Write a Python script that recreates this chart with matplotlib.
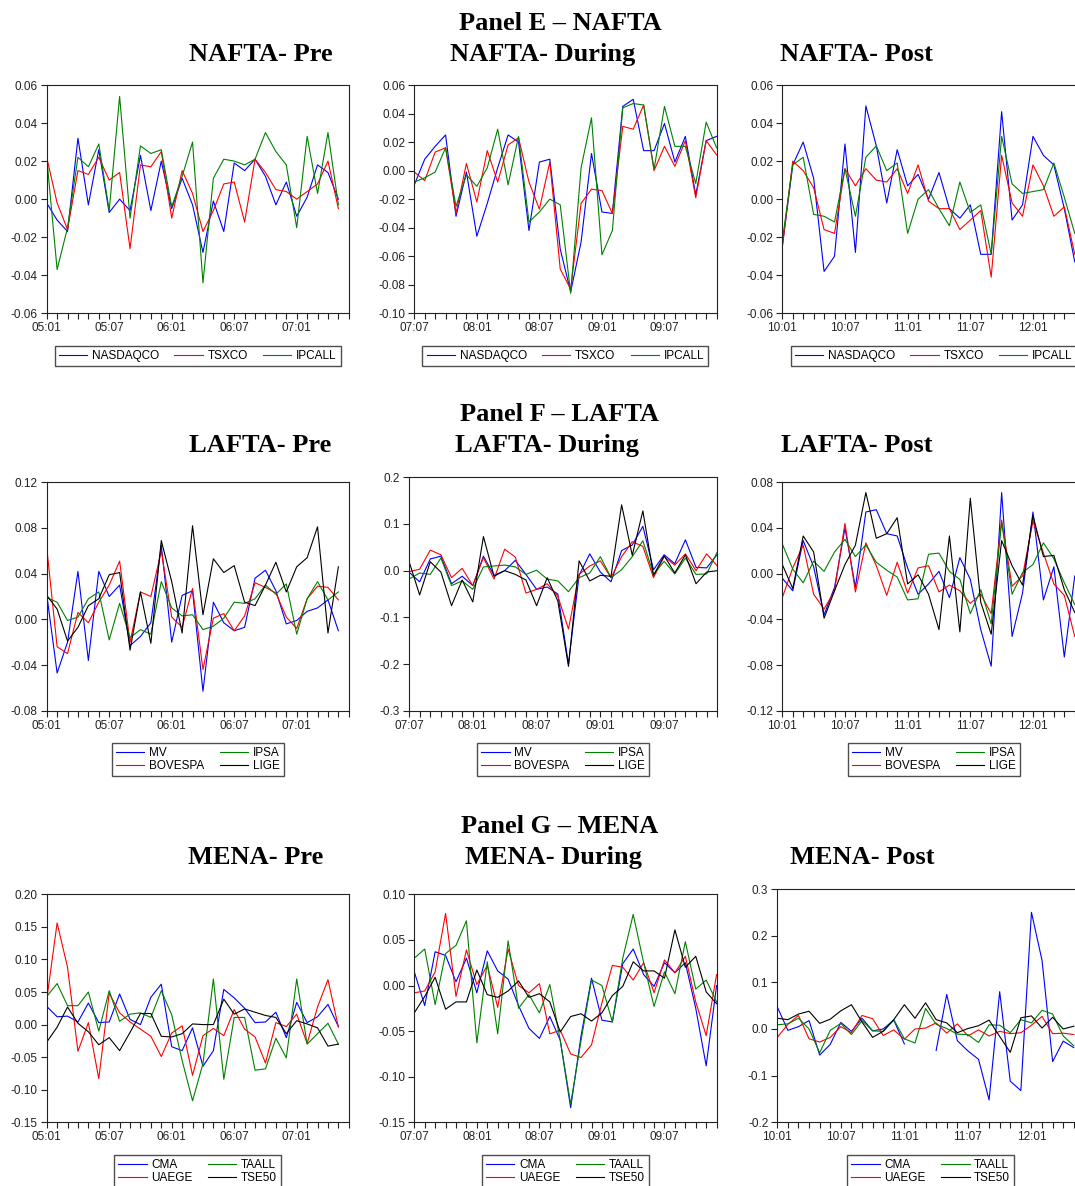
import numpy as np
import matplotlib
matplotlib.use("Agg")
import matplotlib.pyplot as plt
from matplotlib.ticker import FixedLocator, FuncFormatter, MultipleLocator

plt.rcParams['font.family'] = ['Liberation Sans', 'DejaVu Sans']

nan = np.nan

# ── Tick labels ───────────────────────────────────────────────────
PRE_LABELS  = ['05:01', '05:07', '06:01', '06:07', '07:01']
DUR_LABELS  = ['07:07', '08:01', '08:07', '09:01', '09:07']
POST_LABELS = ['10:01', '10:07', '11:01', '11:07', '12:01']

# ── Panel E: NAFTA ────────────────────────────────────────────────
nafta_names = ['NASDAQCO', 'TSXCO', 'IPCALL']
nafta_pre_nasdaq = [-0.002, -0.011, -0.017, 0.032, -0.003, 0.026, -0.007, 0.000, -0.006, 0.023,
                    -0.006, 0.020, -0.005, 0.011, -0.003, -0.028, -0.001, -0.017, 0.019, 0.015,
                    0.021, 0.012, -0.003, 0.009, -0.009, 0.001, 0.018, 0.014, 0.000]
nafta_pre_tsx = [0.022, -0.002, -0.016, 0.015, 0.013, 0.022, 0.010, 0.014, -0.026, 0.018,
                 0.017, 0.025, -0.010, 0.015, 0.003, -0.017, -0.006, 0.008, 0.009, -0.012,
                 0.021, 0.014, 0.005, 0.004, 0.000, 0.004, 0.008, 0.020, -0.005]
nafta_pre_ipc = [0.022, -0.037, -0.015, 0.022, 0.017, 0.029, -0.006, 0.054, -0.010, 0.028,
                 0.024, 0.026, -0.004, 0.012, 0.030, -0.044, 0.011, 0.021, 0.020, 0.018,
                 0.021, 0.035, 0.025, 0.018, -0.015, 0.033, 0.003, 0.035, -0.003]

nafta_dur_nasdaq = [-0.010, 0.008, 0.017, 0.025, -0.032, -0.001, -0.046, -0.023, 0.002, 0.025,
                    0.020, -0.042, 0.006, 0.008, -0.055, -0.085, -0.050, 0.012, -0.029, -0.030,
                    0.045, 0.050, 0.014, 0.014, 0.033, 0.006, 0.024, -0.017, 0.021, 0.024]
nafta_dur_tsx = [-0.001, -0.007, 0.013, 0.016, -0.030, 0.005, -0.022, 0.014, -0.008, 0.018,
                 0.023, -0.008, -0.027, 0.006, -0.069, -0.083, -0.023, -0.013, -0.014, -0.030,
                 0.031, 0.029, 0.046, 0.000, 0.017, 0.003, 0.021, -0.019, 0.021, 0.011]
nafta_dur_ipc = [-0.008, -0.005, -0.001, 0.016, -0.025, -0.003, -0.011, 0.002, 0.029, -0.010,
                 0.024, -0.036, -0.029, -0.020, -0.024, -0.086, 0.002, 0.037, -0.059, -0.042,
                 0.044, 0.047, 0.046, 0.001, 0.045, 0.017, 0.017, -0.009, 0.034, 0.016]

nafta_post_nasdaq = [-0.025, 0.018, 0.030, 0.011, -0.038, -0.030, 0.029, -0.028, 0.049, 0.028,
                     -0.002, 0.026, 0.007, 0.013, 0.000, 0.014, -0.005, -0.010, -0.003, -0.029,
                     -0.029, 0.046, -0.011, -0.003, 0.033, 0.023, 0.018, -0.005, -0.033]
nafta_post_tsx = [-0.025, 0.020, 0.015, 0.006, -0.016, -0.018, 0.016, 0.007, 0.016, 0.010,
                  0.009, 0.016, 0.003, 0.018, -0.001, -0.005, -0.005, -0.016, -0.011, -0.006,
                  -0.041, 0.023, -0.002, -0.009, 0.018, 0.007, -0.009, -0.004, -0.029]
nafta_post_ipc = [-0.022, 0.018, 0.022, -0.008, -0.009, -0.012, 0.016, -0.009, 0.022, 0.028,
                  0.015, 0.019, -0.018, 0.000, 0.005, -0.005, -0.014, 0.009, -0.007, -0.003,
                  -0.029, 0.033, 0.008, 0.003, 0.004, 0.005, 0.019, 0.001, -0.018]

# ── Panel F: LAFTA ────────────────────────────────────────────────
lafta_names = ['MV', 'BOVESPA', 'IPSA', 'LIGE']
lafta_pre_mv = [0.022, -0.047, -0.020, 0.042, -0.036, 0.042, 0.020, 0.030, -0.023, -0.015,
                -0.003, 0.065, -0.020, 0.021, 0.025, -0.063, 0.015, -0.003, -0.010, -0.007,
                0.036, 0.043, 0.025, -0.004, -0.001, 0.007, 0.010, 0.017, -0.010]
lafta_pre_bov = [0.063, -0.024, -0.030, 0.006, -0.003, 0.015, 0.030, 0.051, -0.020, 0.024,
                 0.020, 0.060, 0.002, -0.007, 0.027, -0.044, 0.001, 0.005, -0.010, 0.003,
                 0.032, 0.028, 0.023, 0.002, -0.008, 0.018, 0.029, 0.028, 0.017]
lafta_pre_ipsa = [0.019, 0.015, -0.001, 0.002, 0.018, 0.024, -0.018, 0.014, -0.016, -0.009,
                  -0.013, 0.033, 0.010, 0.003, 0.004, -0.009, -0.006, 0.001, 0.015, 0.014,
                  0.018, 0.030, 0.022, 0.031, -0.013, 0.018, 0.033, 0.017, 0.024]
lafta_pre_lige = [0.021, 0.009, -0.019, -0.007, 0.012, 0.018, 0.039, 0.041, -0.027, 0.024,
                  -0.021, 0.069, 0.033, -0.012, 0.082, 0.004, 0.053, 0.041, 0.047, 0.015,
                  0.012, 0.030, 0.050, 0.024, 0.046, 0.054, 0.081, -0.012, 0.046]

lafta_dur_mv = [-0.003, -0.024, 0.025, 0.031, -0.028, -0.012, -0.032, 0.031, -0.010, 0.000,
                0.022, -0.008, -0.040, -0.035, -0.050, -0.200, -0.010, 0.036, -0.003, -0.024,
                0.043, 0.055, 0.095, 0.002, 0.034, 0.015, 0.066, 0.007, 0.006, 0.035]
lafta_dur_bov = [-0.002, 0.003, 0.044, 0.034, -0.015, 0.005, -0.032, 0.028, -0.018, 0.046,
                 0.029, -0.048, -0.040, -0.028, -0.055, -0.125, -0.008, 0.010, 0.021, -0.015,
                 0.030, 0.062, 0.052, -0.015, 0.030, 0.012, 0.036, 0.000, 0.036, 0.010]
lafta_dur_ipsa = [-0.018, -0.005, -0.008, 0.027, -0.032, -0.022, -0.040, 0.008, 0.010, 0.012,
                  0.008, -0.008, 0.001, -0.018, -0.022, -0.045, -0.015, -0.005, 0.030, -0.015,
                  0.002, 0.030, 0.064, -0.008, 0.020, -0.007, 0.027, -0.008, -0.007, 0.040]
lafta_dur_lige = [0.020, -0.052, 0.019, -0.003, -0.075, -0.020, -0.067, 0.073, -0.012, 0.000,
                  -0.008, -0.020, -0.075, -0.015, -0.065, -0.205, 0.021, -0.022, -0.010, -0.012,
                  0.141, 0.033, 0.128, -0.010, 0.032, -0.005, 0.034, -0.028, -0.003, 0.000]

lafta_post_mv = [-0.004, -0.015, 0.029, 0.006, -0.036, -0.012, 0.040, -0.012, 0.054, 0.056,
                 0.035, 0.033, 0.005, -0.018, -0.009, 0.002, -0.021, 0.014, -0.005, -0.049,
                 -0.081, 0.071, -0.055, -0.017, 0.054, -0.023, 0.006, -0.073, -0.002]
lafta_post_bov = [-0.021, 0.005, 0.025, -0.018, -0.031, -0.015, 0.044, -0.016, 0.027, 0.007,
                  -0.019, 0.010, -0.017, 0.005, 0.007, -0.016, -0.010, -0.015, -0.026, -0.018,
                  -0.035, 0.047, -0.011, -0.002, 0.046, 0.018, -0.009, -0.019, -0.055]
lafta_post_ipsa = [0.026, 0.004, -0.008, 0.011, 0.002, 0.019, 0.030, 0.015, 0.025, 0.010,
                   0.003, -0.003, -0.023, -0.022, 0.017, 0.018, 0.002, -0.005, -0.035, -0.014,
                   -0.044, 0.045, -0.018, 0.001, 0.008, 0.027, 0.013, -0.008, -0.027]
lafta_post_lige = [0.008, -0.013, 0.033, 0.019, -0.039, -0.015, 0.008, 0.025, 0.071, 0.031,
                   0.035, 0.049, -0.009, -0.001, -0.018, -0.049, 0.033, -0.051, 0.066, -0.025,
                   -0.053, 0.029, 0.007, -0.010, 0.051, 0.015, 0.016, -0.014, -0.034]

# ── Panel G: MENA ─────────────────────────────────────────────────
mena_names = ['CMA', 'UAEGE', 'TAALL', 'TSE50']
mena_pre_cma = [0.028, 0.012, 0.013, 0.004, 0.033, 0.003, 0.004, 0.047, 0.008, 0.000,
                0.042, 0.062, -0.034, -0.040, -0.005, -0.064, -0.040, 0.054, 0.041, 0.025,
                0.003, 0.004, 0.019, -0.020, 0.034, 0.003, 0.012, 0.031, -0.003]
mena_pre_uae = [0.038, 0.156, 0.088, -0.041, 0.003, -0.083, 0.048, 0.018, 0.004, -0.007,
                -0.018, -0.049, -0.013, -0.002, -0.078, -0.017, -0.006, -0.017, 0.023, -0.007,
                -0.019, -0.059, 0.003, -0.003, 0.016, -0.029, 0.027, 0.069, -0.004]
mena_pre_taall = [0.043, 0.063, 0.029, 0.029, 0.050, -0.010, 0.052, 0.005, 0.016, 0.018,
                  0.011, 0.052, 0.015, -0.055, -0.117, -0.060, 0.070, -0.084, 0.011, 0.011,
                  -0.070, -0.068, -0.021, -0.051, 0.070, -0.030, -0.014, 0.002, -0.030]
mena_pre_tse = [-0.027, -0.004, 0.027, 0.002, -0.011, -0.031, -0.020, -0.040, -0.012, 0.017,
                0.017, -0.018, -0.019, -0.014, 0.001, 0.000, 0.000, 0.039, 0.016, 0.024,
                0.019, 0.014, 0.011, -0.014, 0.006, 0.001, -0.005, -0.033, -0.030]

mena_dur_cma = [0.015, -0.022, 0.037, 0.033, 0.004, 0.030, -0.008, 0.038, 0.016, 0.007,
                -0.022, -0.047, -0.058, -0.034, -0.060, -0.134, -0.055, 0.008, -0.038, -0.040,
                0.024, 0.040, 0.012, -0.001, 0.025, 0.014, 0.025, -0.025, -0.088, 0.000]
mena_dur_uae = [-0.008, -0.006, 0.015, 0.079, -0.012, 0.039, 0.001, 0.022, -0.024, 0.040,
                0.000, -0.008, 0.002, -0.053, -0.049, -0.075, -0.079, -0.065, -0.019, 0.022,
                0.020, 0.006, 0.025, -0.008, 0.028, 0.014, 0.032, -0.018, -0.055, 0.012]
mena_dur_taall = [0.030, 0.040, -0.021, 0.035, 0.044, 0.071, -0.063, 0.026, -0.053, 0.049,
                  -0.025, -0.010, -0.030, 0.001, -0.060, -0.130, -0.060, 0.006, 0.000, -0.040,
                  0.030, 0.078, 0.025, -0.023, 0.015, -0.009, 0.048, -0.004, 0.006, -0.018]
mena_dur_tse = [-0.030, -0.012, 0.009, -0.026, -0.018, -0.018, 0.017, -0.010, -0.013, -0.006,
                0.005, -0.013, -0.009, -0.018, -0.051, -0.034, -0.031, -0.039, -0.030, -0.011,
                -0.001, 0.026, 0.016, 0.016, 0.008, 0.061, 0.020, 0.032, -0.007, -0.020]

mena_post_cma = [0.047, -0.003, 0.005, 0.018, -0.056, -0.033, 0.014, -0.005, 0.023, -0.004,
                 0.000, 0.019, -0.032, nan, nan, -0.046, 0.074, -0.025, -0.047, -0.065,
                 -0.152, 0.080, -0.112, -0.132, 0.250, 0.147, -0.070, -0.026, -0.040]
mena_post_uae = [-0.018, 0.010, 0.029, -0.021, -0.028, -0.018, 0.005, -0.008, 0.029, 0.022,
                 -0.014, -0.002, -0.022, 0.000, 0.002, 0.013, -0.009, 0.011, -0.015, -0.002,
                 -0.015, -0.005, -0.010, -0.008, 0.008, 0.027, -0.010, -0.009, -0.012]
mena_post_taall = [0.009, 0.011, 0.023, 0.000, -0.051, -0.003, 0.012, -0.012, 0.018, -0.004,
                   -0.005, 0.020, -0.021, -0.030, 0.044, 0.010, 0.001, -0.011, -0.012, -0.029,
                   0.009, 0.008, -0.008, 0.020, 0.013, 0.040, 0.032, -0.015, -0.036]
mena_post_tse = [0.023, 0.020, 0.032, 0.038, 0.012, 0.021, 0.039, 0.052, 0.015, -0.018,
                 -0.005, 0.020, 0.052, 0.023, 0.056, 0.020, 0.013, -0.008, 0.001, 0.007,
                 0.019, -0.016, -0.050, 0.024, 0.028, 0.002, 0.025, 0.000, 0.006]

COLORS = ['#0000FF', '#FF0000', '#008000', '#000000']

# ── Layout (pixel boxes in a 1075x1186 canvas) ────────────────────
W, H = 1075, 1186
# (title, series, names, xlabels, ylim, ystep, decimals, box l/t/r/b, legend top, ncol)
panels = [
    ('NAFTA- Pre', [nafta_pre_nasdaq, nafta_pre_tsx, nafta_pre_ipc], nafta_names, PRE_LABELS,
     (-0.06, 0.06), 0.02, 2, (46.7, 85, 348.8, 313.3), 346, 3),
    ('NAFTA- During', [nafta_dur_nasdaq, nafta_dur_tsx, nafta_dur_ipc], nafta_names, DUR_LABELS,
     (-0.10, 0.06), 0.02, 2, (414.3, 85, 716.6, 313.3), 346, 3),
    ('NAFTA- Post', [nafta_post_nasdaq, nafta_post_tsx, nafta_post_ipc], nafta_names, POST_LABELS,
     (-0.06, 0.06), 0.02, 2, (782.3, 85, 1085.2, 313.3), 346, 3),
    ('LAFTA- Pre', [lafta_pre_mv, lafta_pre_bov, lafta_pre_ipsa, lafta_pre_lige], lafta_names, PRE_LABELS,
     (-0.08, 0.12), 0.04, 2, (46.7, 482.3, 348.8, 710.7), 743, 2),
    ('LAFTA- During', [lafta_dur_mv, lafta_dur_bov, lafta_dur_ipsa, lafta_dur_lige], lafta_names, DUR_LABELS,
     (-0.3, 0.2), 0.1, 1, (409.0, 477.3, 717.3, 710.7), 743, 2),
    ('LAFTA- Post', [lafta_post_mv, lafta_post_bov, lafta_post_ipsa, lafta_post_lige], lafta_names, POST_LABELS,
     (-0.12, 0.08), 0.04, 2, (782.3, 482.3, 1085.2, 710.7), 743, 2),
    ('MENA- Pre', [mena_pre_cma, mena_pre_uae, mena_pre_taall, mena_pre_tse], mena_names, PRE_LABELS,
     (-0.15, 0.20), 0.05, 2, (46.7, 894.3, 348.8, 1122.3), 1155, 2),
    ('MENA- During', [mena_dur_cma, mena_dur_uae, mena_dur_taall, mena_dur_tse], mena_names, DUR_LABELS,
     (-0.15, 0.10), 0.05, 2, (414.3, 894.3, 716.6, 1122.3), 1155, 2),
    ('MENA- Post', [mena_post_cma, mena_post_uae, mena_post_taall, mena_post_tse], mena_names, POST_LABELS,
     (-0.2, 0.3), 0.1, 1, (777.3, 889.0, 1084.4, 1122.3), 1155, 2),
]

# (text, x centre, baseline y) in pixels
headings = [
    ('Panel E \u2013 NAFTA', 560, 30), ('NAFTA- Pre', 261, 61),
    ('NAFTA- During', 543, 61), ('NAFTA- Post', 856, 61),
    ('Panel F \u2013 LAFTA', 560, 421), ('LAFTA- Pre', 260, 452),
    ('LAFTA- During', 547, 452), ('LAFTA- Post', 857, 452),
    ('Panel G \u2013 MENA', 560, 833), ('MENA- Pre', 256, 864),
    ('MENA- During', 553, 864), ('MENA- Post', 862, 864),
]


def ytick_fmt(decimals):
    # round first so a tiny float error at zero never prints as "-0.00"
    return FuncFormatter(lambda v, pos: f"{round(v, decimals) + 0.0:.{decimals}f}")


fig = plt.figure(figsize=(W / 100, H / 100), dpi=100)

for title, series, names, xlabels, ylim, ystep, dec, box, leg_top, ncol in panels:
    l, t, r, b = box
    ax = fig.add_axes([l / W, 1 - b / H, (r - l) / W, (b - t) / H])
    for vals, name, col in zip(series, names, COLORS):
        ax.plot(np.arange(len(vals)), vals, color=col, lw=0.8, label=name)

    ax.set_xlim(0, 29)
    ax.set_ylim(*ylim)
    ax.xaxis.set_major_locator(FixedLocator([0, 6, 12, 18, 24]))
    ax.xaxis.set_minor_locator(MultipleLocator(1))
    ax.set_xticklabels(xlabels)
    ax.yaxis.set_major_locator(MultipleLocator(ystep))
    ax.yaxis.set_major_formatter(ytick_fmt(dec))
    ax.tick_params(which='both', direction='out', length=4, width=0.8,
                   labelsize=8.5, colors='#222222')
    ax.tick_params(axis='x', pad=2.5)
    ax.tick_params(axis='y', pad=2.5)
    for sp in ax.spines.values():
        sp.set_linewidth(0.8)
        sp.set_color('#222222')

    cx = l + (r - l) / 2
    leg = ax.legend(loc='upper center', bbox_to_anchor=(cx / W, 1 - leg_top / H),
                    bbox_transform=fig.transFigure, ncol=ncol, fontsize=8.5,
                    frameon=True, fancybox=False, borderpad=0.35, labelspacing=0.05,
                    handlelength=2.4, handletextpad=0.4, columnspacing=1.3,
                    borderaxespad=0)
    leg.get_frame().set_edgecolor('#222222')
    leg.get_frame().set_linewidth(1.0)

for text, x, y in headings:
    fig.text(x / W, 1 - y / H, text, ha='center', va='baseline', fontsize=19,
             fontweight='bold', family=['Liberation Serif', 'DejaVu Serif'])

fig.savefig('out.png', dpi=100)
